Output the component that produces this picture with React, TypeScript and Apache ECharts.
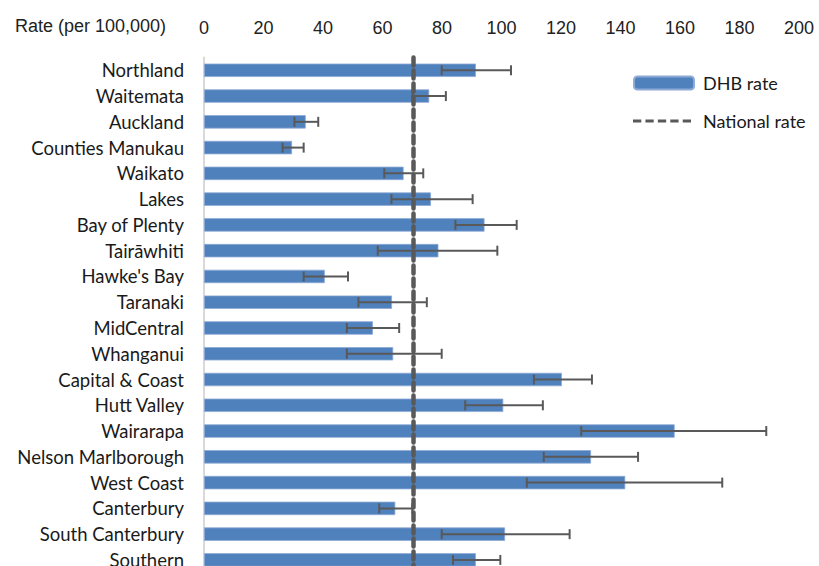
import React, { useEffect, useRef } from "react";
import * as echarts from "echarts";

// District health boards, top to bottom
const categories = [
  "Northland",
  "Waitemata",
  "Auckland",
  "Counties Manukau",
  "Waikato",
  "Lakes",
  "Bay of Plenty",
  "Tairāwhiti",
  "Hawke's Bay",
  "Taranaki",
  "MidCentral",
  "Whanganui",
  "Capital & Coast",
  "Hutt Valley",
  "Wairarapa",
  "Nelson Marlborough",
  "West Coast",
  "Canterbury",
  "South Canterbury",
  "Southern",
];

// DHB rate per 100,000
const rates = [
  91.4, 75.7, 34.2, 29.6, 67.1, 76.3, 94.3, 78.8, 40.6, 63.2, 56.8, 63.6, 120.3,
  100.6, 158.2, 130.1, 141.6, 64.3, 101.2, 91.4,
];

// 95% confidence interval bounds
const lower = [
  79.9, 70.1, 30.4, 26.4, 60.6, 63.0, 84.5, 58.4, 33.5, 51.9, 48.0, 48.0, 110.9,
  87.8, 126.8, 114.2, 108.5, 58.9, 79.9, 83.7,
];
const upper = [
  103.2, 81.3, 38.4, 33.5, 73.7, 90.3, 105.1, 98.6, 48.4, 74.9, 65.6, 79.9, 130.4,
  113.9, 189.0, 145.9, 174.2, 70.0, 122.9, 99.6,
];

const nationalRate = 70.5;

const xTicks = { min: 0, max: 200, interval: 20 };

const LABEL_FONT = "Lato, 'Noto Sans', sans-serif";
const AXIS_FONT = "'Liberation Sans', Arial, sans-serif";
const INK = "#1a1a1a";
const ERR = "#595959";

// five short dashes used as the legend key for the national rate
const DASH_ICON =
  "path://M0,0h8v3h-8zM12,0h8v3h-8zM24,0h8v3h-8zM36,0h8v3h-8zM48,0h8v3h-8z";

export default function App() {
  const ref = useRef<HTMLDivElement>(null);

  useEffect(() => {
    if (!ref.current) return;
    const chart = echarts.init(ref.current, undefined, { renderer: "svg" });

    const errorData = categories.map((_, i) => [i, lower[i], upper[i]]);

    chart.setOption({
      animation: false,
      backgroundColor: "#ffffff",
      grid: { left: 204, right: 20, top: 57.4, bottom: 0.2, containLabel: false },
      xAxis: {
        type: "value",
        position: "top",
        min: xTicks.min,
        max: xTicks.max,
        interval: xTicks.interval,
        axisLine: { show: false },
        axisTick: { show: false },
        splitLine: { show: false },
        axisLabel: {
          margin: 20,
          fontFamily: AXIS_FONT,
          fontSize: 18,
          color: "#222222",
        },
      },
      yAxis: {
        type: "category",
        data: categories,
        inverse: true,
        axisLine: { show: true, lineStyle: { color: "#d9d9d9", width: 2 } },
        axisTick: { show: false },
        axisLabel: {
          margin: 20,
          fontFamily: LABEL_FONT,
          fontSize: 18.5,
          color: INK,
        },
      },
      legend: [
        {
          data: ["DHB rate"],
          left: 633,
          top: 74,
          itemWidth: 60,
          itemHeight: 13,
          itemGap: 0,
          padding: 0,
          textStyle: { fontFamily: LABEL_FONT, fontSize: 18, color: INK, padding: [0, 0, 0, 4] },
          selectedMode: false,
        },
        {
          data: [{ name: "National rate", icon: DASH_ICON }],
          left: 633,
          top: 112,
          itemWidth: 58,
          itemHeight: 3.5,
          itemGap: 0,
          padding: 0,
          itemStyle: { color: ERR },
          textStyle: { fontFamily: LABEL_FONT, fontSize: 18, color: INK, padding: [0, 0, 0, 7] },
          selectedMode: false,
        },
      ],
      graphic: [
        {
          type: "text",
          left: 15,
          top: 17,
          style: {
            text: "Rate (per 100,000)",
            fontFamily: AXIS_FONT,
            fontSize: 18,
            fill: "#222222",
          },
        },
      ],
      series: [
        {
          name: "DHB rate",
          type: "bar",
          data: rates,
          barWidth: "52%",
          itemStyle: { color: "#4f81bd", borderColor: "#8eaad6", borderWidth: 0.8 },
          z: 2,
        },
        {
          name: "errors",
          type: "custom",
          data: errorData,
          encode: { x: [1, 2], y: 0 },
          z: 3,
          renderItem: (params: any, api: any) => {
            const idx = api.value(0);
            const a = api.coord([api.value(1), idx]);
            const b = api.coord([api.value(2), idx]);
            const cap = 5;
            const style = { stroke: ERR, lineWidth: 2 };
            return {
              type: "group",
              children: [
                { type: "line", shape: { x1: a[0], y1: a[1], x2: b[0], y2: b[1] }, style },
                { type: "line", shape: { x1: a[0], y1: a[1] - cap, x2: a[0], y2: a[1] + cap }, style },
                { type: "line", shape: { x1: b[0], y1: b[1] - cap, x2: b[0], y2: b[1] + cap }, style },
              ],
            };
          },
        },
        {
          name: "National rate",
          type: "line",
          data: [],
          symbol: "none",
          itemStyle: { color: ERR },
          lineStyle: { color: ERR, width: 3.5, type: [7, 4] },
          z: 5,
          markLine: {
            silent: true,
            symbol: "none",
            label: { show: false },
            lineStyle: { color: ERR, width: 4.5, type: [8, 5], cap: "round" },
            data: [{ xAxis: nationalRate }],
          },
        },
      ],
    });

    return () => chart.dispose();
  }, []);

  return (
    <div
      style={{
        position: "fixed",
        left: 0,
        top: 0,
        width: 819,
        height: 566,
        overflow: "hidden",
        background: "#ffffff",
      }}
    >
      <div ref={ref} style={{ width: 819, height: 573 }} />
    </div>
  );
}
